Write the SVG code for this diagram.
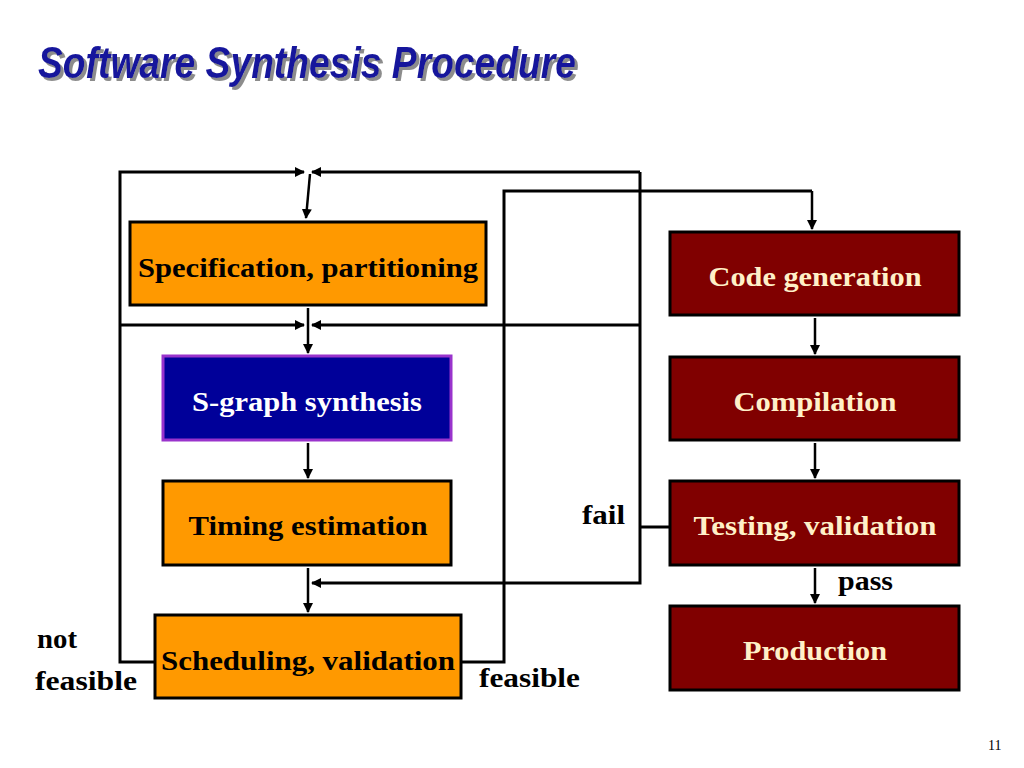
<svg xmlns="http://www.w3.org/2000/svg" width="1024" height="768" viewBox="0 0 1024 768">
<style>
.t{font-family:"Liberation Serif",serif;font-weight:bold;font-size:27px;text-anchor:middle}
.lbl{font-family:"Liberation Serif",serif;font-weight:bold;font-size:28px;fill:#000}
.or{fill:#FF9900;stroke:#000;stroke-width:3}
.mr{fill:#800000;stroke:#000;stroke-width:3}
.c{fill:none;stroke:#000;stroke-width:3}
.a{fill:none;stroke:#000;stroke-width:2.5;marker-end:url(#ah)}
.title{font-family:"Liberation Sans",sans-serif;font-weight:bold;font-style:italic;font-size:45px}
</style>
<defs>
<marker id="ah" viewBox="0 0 10 10" refX="9" refY="5" markerWidth="10" markerHeight="10" markerUnits="userSpaceOnUse" orient="auto">
<path d="M0,0 L10,5 L0,10 z" fill="#000"/>
</marker>
<filter id="sh" x="-5%" y="-20%" width="110%" height="150%">
<feDropShadow dx="3" dy="3" stdDeviation="0.6" flood-color="#8c8c8c" flood-opacity="1"/>
</filter>
</defs>
<rect width="1024" height="768" fill="#fff"/>
<g id="title">
<text x="38" y="78" class="title" fill="#16169C" filter="url(#sh)" textLength="538" lengthAdjust="spacingAndGlyphs">Software Synthesis Procedure</text>
</g>
<g id="connectors">
<polyline class="c" points="155,662 120,662 120,172 304,172" style="marker-end:url(#ah)"/>
<polyline class="c" points="670,527 640,527"/>
<polyline class="c" points="640,172 640,583 312,583" style="marker-end:url(#ah)"/>
<line class="c" x1="640" y1="172" x2="312" y2="172" style="marker-end:url(#ah)"/>
<line class="a" x1="310" y1="174" x2="306" y2="218"/>
<line class="c" x1="120" y1="325" x2="304" y2="325" style="marker-end:url(#ah)"/>
<line class="c" x1="640" y1="325" x2="312" y2="325" style="marker-end:url(#ah)"/>
<line class="a" x1="308" y1="308" x2="308" y2="353"/>
<polyline class="c" points="461,662 504,662 504,191 812,191"/>
<line class="a" x1="812" y1="191" x2="812" y2="229"/>
<line class="a" x1="308" y1="443" x2="308" y2="478"/>
<line class="a" x1="308" y1="568" x2="308" y2="612"/>
<line class="a" x1="815" y1="318" x2="815" y2="354"/>
<line class="a" x1="815" y1="443" x2="815" y2="478"/>
<line class="a" x1="815" y1="568" x2="815" y2="603"/>
</g>
<g id="spec"><rect class="or" x="130" y="222" width="356" height="83"/><text class="t" x="308" y="277" textLength="340" lengthAdjust="spacingAndGlyphs">Specification, partitioning</text></g>
<g id="sgraph"><rect x="163" y="356" width="288" height="84" fill="#000099" stroke="#9933CC" stroke-width="3"/><text class="t" x="307" y="411" fill="#fff" textLength="230" lengthAdjust="spacingAndGlyphs">S-graph synthesis</text></g>
<g id="timing"><rect class="or" x="163" y="481" width="288" height="84"/><text class="t" x="308" y="535" textLength="239" lengthAdjust="spacingAndGlyphs">Timing estimation</text></g>
<g id="sched"><rect class="or" x="155" y="615" width="306" height="83"/><text class="t" x="308" y="670" textLength="294" lengthAdjust="spacingAndGlyphs">Scheduling, validation</text></g>
<g id="codegen"><rect class="mr" x="670" y="232" width="289" height="83"/><text class="t" x="815" y="286" fill="#FFF0C8" textLength="213" lengthAdjust="spacingAndGlyphs">Code generation</text></g>
<g id="compile"><rect class="mr" x="670" y="357" width="289" height="83"/><text class="t" x="815" y="411" fill="#FFF0C8" textLength="163" lengthAdjust="spacingAndGlyphs">Compilation</text></g>
<g id="testing"><rect class="mr" x="670" y="481" width="289" height="84"/><text class="t" x="815" y="535" fill="#FFF0C8" textLength="243" lengthAdjust="spacingAndGlyphs">Testing, validation</text></g>
<g id="production"><rect class="mr" x="670" y="606" width="289" height="84"/><text class="t" x="815" y="660" fill="#FFF0C8" textLength="144" lengthAdjust="spacingAndGlyphs">Production</text></g>
<g id="labels">
<text class="lbl" x="582" y="524" textLength="43" lengthAdjust="spacingAndGlyphs">fail</text>
<text class="lbl" x="838" y="590" textLength="55" lengthAdjust="spacingAndGlyphs">pass</text>
<text class="lbl" x="37" y="648" textLength="40" lengthAdjust="spacingAndGlyphs">not</text>
<text class="lbl" x="35" y="690" textLength="102" lengthAdjust="spacingAndGlyphs">feasible</text>
<text class="lbl" x="479" y="687" textLength="101" lengthAdjust="spacingAndGlyphs">feasible</text>
<text x="988" y="750" font-family="Liberation Serif,serif" font-size="14">11</text>
</g>
</svg>
